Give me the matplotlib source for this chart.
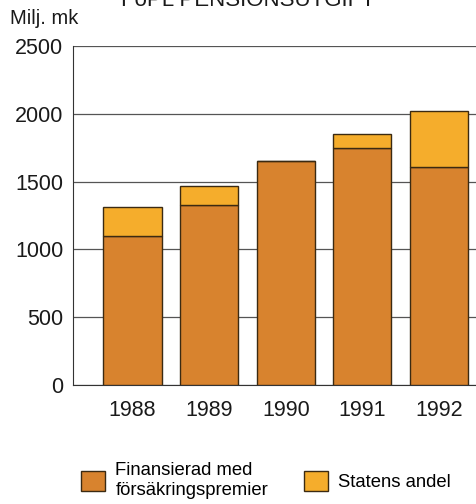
import numpy as np
import matplotlib.pyplot as plt
from matplotlib.patches import Patch

years = ["1988", "1989", "1990", "1991", "1992"]
premier = [1100, 1330, 1650, 1750, 1610]   # Finansierad med försäkringspremier
staten = [210, 140, 0, 100, 410]           # Statens andel
yticks = [0, 500, 1000, 1500, 2000, 2500]

dark = "#D8832E"
light = "#F5AD2C"
edge = "#3B2A12"

plt.rcParams["font.family"] = ["Liberation Sans", "DejaVu Sans"]

fig = plt.figure(figsize=(4.77, 5.04), dpi=100)
ax = fig.add_axes([0.153, 0.236, 0.847, 0.673])

x = np.arange(len(years))
ax.bar(x, premier, width=0.76, color=dark, edgecolor=edge, linewidth=1.0, zorder=3)
ax.bar(x, staten, width=0.76, bottom=premier, color=light, edgecolor=edge,
       linewidth=1.0, zorder=3)

ax.set_ylim(0, 2500)
ax.set_xlim(-0.777, 4.496)
ax.set_yticks(yticks)
ax.set_xticks(x)
ax.set_xticklabels(years)
ax.tick_params(axis="both", length=0, labelsize=15.5, colors="#1a1a1a")
ax.tick_params(axis="y", pad=7)
ax.tick_params(axis="x", pad=11)
ax.yaxis.grid(True, color="#555555", linewidth=0.9, zorder=0)
ax.set_axisbelow(True)
for s in ["top", "right"]:
    ax.spines[s].set_visible(False)
ax.spines["left"].set_color("#333333")
ax.spines["bottom"].set_color("#333333")

fig.text(0.02, 0.964, "Milj. mk", fontsize=14.5, va="center", ha="left", color="#1a1a1a")
fig.text(0.52, 1.0, "FöPL PENSIONSUTGIFT", fontsize=16, va="center", ha="center",
         color="#1a1a1a")

handles = [Patch(facecolor=dark, edgecolor=edge), Patch(facecolor=light, edgecolor=edge)]
labels = ["Finansierad med\nförsäkringspremier", "Statens andel"]
fig.legend(handles, labels, loc="upper left", bbox_to_anchor=(0.155, 0.098),
           ncol=2, frameon=False, fontsize=13.3, handlelength=1.3, handleheight=1.3,
           columnspacing=1.95, handletextpad=0.55, borderaxespad=0, labelspacing=0.2)

fig.savefig("out.png", dpi=100)
